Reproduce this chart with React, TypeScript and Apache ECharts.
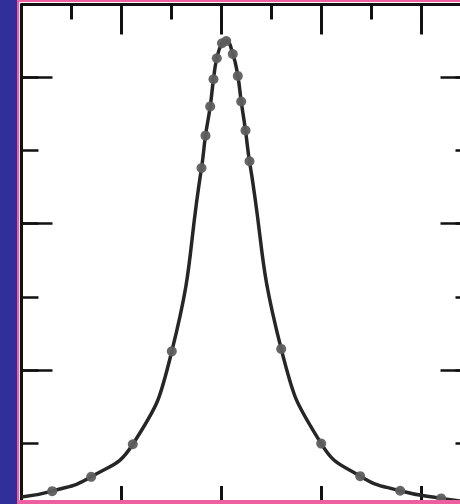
import React, { useEffect, useRef } from "react";
import * as echarts from "echarts";

// Measured curve points (x in axis units, y in axis units)
const curveX = [-2.0, -1.693, -1.303, -0.887, -0.497, -0.2, -0.16, -0.113, -0.08, -0.047, 0.005, 0.047, 0.113, 0.163, 0.197, 0.24, 0.28, 0.597, 0.997, 1.387, 1.787, 2.197, 2.5];
const curveY = [0.26, 0.34, 0.536, 0.982, 2.254, 4.763, 5.205, 5.605, 5.977, 6.264, 6.47, 6.5, 6.323, 6.023, 5.673, 5.277, 4.855, 2.287, 0.991, 0.545, 0.345, 0.241, 0.19];
// Indices of curveX/curveY that carry a dot marker
const dotIdx = [1, 2, 3, 4, 5, 6, 7, 8, 9, 10, 11, 12, 13, 14, 15, 16, 17, 18, 19, 20, 21];

const xMin = -2;
const xMax = 2.5;
const yMin = 0;
const yMax = 7;

export default function App() {
  const ref = useRef<HTMLDivElement>(null);
  useEffect(() => {
    if (!ref.current) return;
    const chart = echarts.init(ref.current, undefined, { renderer: "svg" });
    const tickStyle = { color: "#111", width: 3 };
    const mkX = (pos: "top" | "bottom", interval: number, len: number, line: boolean) => ({
      type: "value",
      position: pos,
      min: xMin,
      max: xMax,
      interval,
      axisLine: { show: line, onZero: false, lineStyle: { color: "#111", width: 3 } },
      axisTick: { show: true, inside: true, length: len, lineStyle: tickStyle },
      axisLabel: { show: false },
      splitLine: { show: false },
    });
    const mkY = (pos: "left" | "right", interval: number, len: number, line: boolean) => ({
      type: "value",
      position: pos,
      min: yMin,
      max: yMax,
      interval,
      axisLine: { show: line, onZero: false, lineStyle: { color: "#111", width: 3 } },
      axisTick: { show: true, inside: true, length: len, lineStyle: { color: "#111", width: 2.5 } },
      axisLabel: { show: false },
      splitLine: { show: false },
    });
    const lineData = curveX.map((x, i) => [x, curveY[i]]);
    const dotData = dotIdx.map((i) => [curveX[i], curveY[i]]);
    chart.setOption({
      animation: false,
      backgroundColor: "#ffffff",
      grid: { left: 21.5, top: 4.5, width: 450, height: 511.5, containLabel: false },
      xAxis: [
        mkX("bottom", 1, 30, true),
        mkX("top", 1, 30, true),
        mkX("bottom", 0.5, 15, false),
        mkX("top", 0.5, 15, false),
      ],
      yAxis: [
        mkY("left", 2, 31, true),
        mkY("right", 2, 31, true),
        mkY("left", 1, 17, false),
        mkY("right", 1, 16, false),
      ],
      series: [
        {
          type: "line",
          xAxisIndex: 0,
          yAxisIndex: 0,
          data: lineData,
          smooth: 0.5,
          showSymbol: false,
          symbol: "none",
          lineStyle: { color: "#262626", width: 3.5 },
          z: 2,
        },
        {
          type: "scatter",
          xAxisIndex: 0,
          yAxisIndex: 0,
          data: dotData,
          symbol: "circle",
          symbolSize: 10,
          itemStyle: { color: "#5e5e5e", opacity: 0.95 },
          z: 3,
        },
      ],
      graphic: [
        { type: "rect", z: 100, shape: { x: 0, y: 0, width: 17, height: 520 }, style: { fill: "#31309a" } },
        { type: "rect", z: 100, shape: { x: 17, y: 0, width: 2.2, height: 520 }, style: { fill: "#ee5f9f" } },
        { type: "rect", z: 100, shape: { x: 17, y: 0, width: 470, height: 2 }, style: { fill: "#ee5f9f" } },
        { type: "rect", z: 100, shape: { x: 17, y: 500, width: 470, height: 20 }, style: { fill: "#ee5f9f" } },
      ],
    });
    return () => chart.dispose();
  }, []);
  return (
    <div style={{ position: "fixed", left: 0, top: 0, width: 460, height: 504, overflow: "hidden" }}>
      <div ref={ref} style={{ width: 480, height: 520 }} />
    </div>
  );
}
